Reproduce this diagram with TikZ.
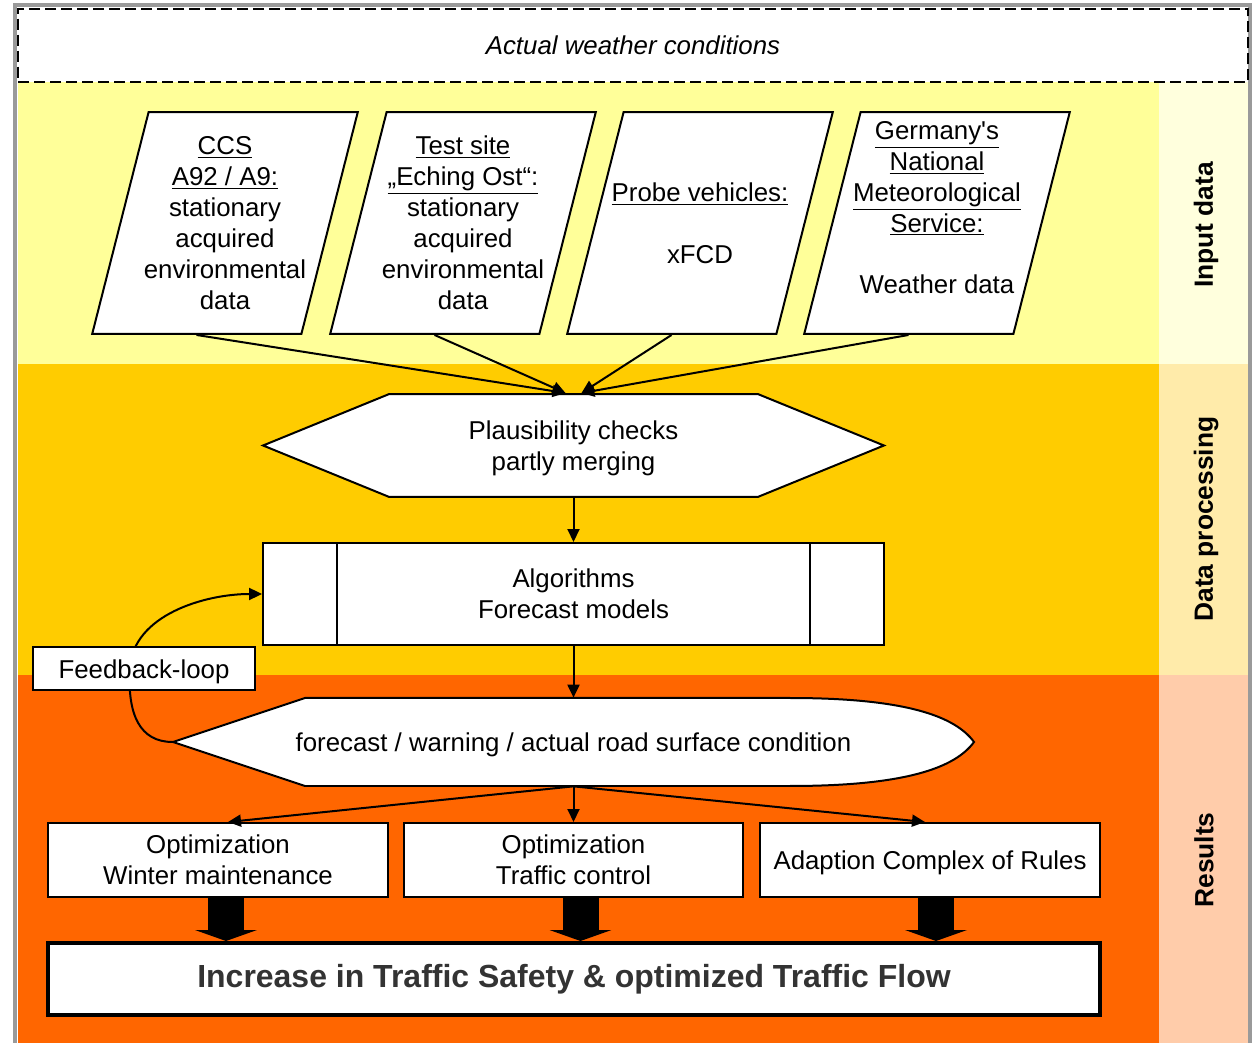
\documentclass[tikz,border=0pt]{standalone}
\usepackage{fontspec}
\setmainfont{Liberation Sans}
\usetikzlibrary{shapes.geometric,shapes.symbols,arrows.meta,calc}

\definecolor{bandinput}{HTML}{FFFF99}
\definecolor{bandinputside}{HTML}{FFFFDD}
\definecolor{bandproc}{HTML}{FFCC00}
\definecolor{bandprocside}{HTML}{FFEBAA}
\definecolor{bandres}{HTML}{FF6600}
\definecolor{bandresside}{HTML}{FFCCAA}
\definecolor{framegray}{HTML}{9A9A9A}
\definecolor{goaltext}{HTML}{333333}

\newcommand{\droptext}[1]{\raisebox{-0.06cm}[\height][\depth]{#1}}
% fixed room inside every source box
\newcommand{\paraspace}{\rule{3.0cm}{0pt}\rule{0pt}{3.58cm}}

\tikzset{
  box/.style={draw, fill=white, line width=0.04cm, align=center, inner sep=0pt},
  para/.style={box, trapezium, trapezium left angle=72.8, trapezium right angle=107.2,
    trapezium stretches=true, minimum width=5.32cm, minimum height=4.44cm},
  paratext/.style={label={[align=center]center:#1}},
  flow/.style={-{Triangle[length=0.26cm,width=0.24cm]}, line width=0.04cm},
  fat/.style={-{Triangle[length=0.22cm,width=1.24cm,line width=0pt]}, line width=0.72cm},
  band/.style={font=\fontsize{15}{18}\selectfont\bfseries, rotate=90},
}

\begin{document}
\begin{tikzpicture}[x=0.02cm, y=-0.02cm, font=\fontsize{14.7}{17.6}\selectfont]
\useasboundingbox (0,0) rectangle (1255,1043);

% coloured bands
\fill[bandinput] (18,82) rectangle (1159,364);
\fill[bandinputside] (1159,82) rectangle (1248,364);
\fill[bandproc] (18,364) rectangle (1159,675);
\fill[bandprocside] (1159,364) rectangle (1248,675);
\fill[bandres] (18,675) rectangle (1159,1043);
\fill[bandresside] (1159,675) rectangle (1248,1043);
\draw[framegray, line width=0.07cm] (15,1043) -- (15,5) -- (1250,5) -- (1250,1043);

\node[draw, fill=white, line width=0.04cm, dash pattern=on 0.22cm off 0.1cm,
  minimum width=24.6cm, minimum height=1.48cm] (weather) at (633,45.5) {\itshape Actual weather conditions};

% sources
\node[para, paratext={\underline{CCS}\\\underline{A92 / A9:}\\stationary\\acquired\\environmental\\data}] (ccs) at (225,223) {\paraspace};
\node[para, paratext={\underline{Test site}\\\underline{„Eching Ost“:}\\stationary\\acquired\\environmental\\data}] (eching) at (463,223) {\paraspace};
\node[para, paratext={\underline{Probe vehicles:}\\\mbox{}\\xFCD}] (probe) at (700,223) {\paraspace};
\node[para, paratext={\underline{Germany\textquotesingle s}\\\underline{National}\\\underline{Meteorological}\\\underline{Service:}\\\mbox{}\\Weather data\\\mbox{}}] (dwd) at (937,223) {\paraspace};

% processing
\node[box, signal, signal to=west and east, signal pointer angle=44.4,
  minimum width=12.42cm, minimum height=2.06cm] (plaus) at (573.5,445.5) {\rule{0pt}{0.5cm}Plausibility checks\\partly merging};
\node[box, minimum width=12.42cm, minimum height=2.04cm] (alg) at (573.5,594) {Algorithms\\Forecast models};
\draw[line width=0.04cm] ($(alg.north west)+(75,0)$) -- ($(alg.south west)+(75,0)$);
\draw[line width=0.04cm] ($(alg.north east)+(-75,0)$) -- ($(alg.south east)+(-75,0)$);

% results
\draw[box] (173,742) -- (305,698) -- (790,698) .. controls (905,698) and (955,716) .. (974,742)
  .. controls (955,768) and (905,786) .. (790,786) -- (305,786) -- cycle;
\node[minimum width=16.02cm, minimum height=1.76cm, inner sep=0pt] (fc) at (573.5,742) {\droptext{forecast / warning / actual road surface condition}};
\node[box, minimum width=6.8cm, minimum height=1.48cm] (optA) at (218,860) {Optimization\\Winter maintenance};
\node[box, minimum width=6.8cm, minimum height=1.48cm] (optB) at (573.5,860) {Optimization\\Traffic control};
\node[box, minimum width=6.8cm, minimum height=1.48cm] (optC) at (930,860) {\droptext{Adaption Complex of Rules}};
\node[box, line width=0.08cm, minimum width=21.04cm, minimum height=1.44cm,
  font=\fontsize{18.2}{22}\selectfont\bfseries, text=goaltext] (goal) at (574,979) {Increase in Traffic Safety \& optimized Traffic Flow};

% arrows
\draw[flow] (ccs.bottom side) -- ($(plaus.north)+(-8,0)$);
\draw[flow] (eching.bottom side) -- ($(plaus.north)+(-8,0)$);
\draw[flow] (probe.bottom side) -- ($(plaus.north)+(8,0)$);
\draw[flow] (dwd.bottom side) -- ($(plaus.north)+(8,0)$);
\draw[flow] (plaus.south) -- (alg.north);
\draw[flow] (alg.south) -- (fc.north);
\draw[flow] (fc.south) -- ($(optA.north)+(10,0)$);
\draw[flow] (fc.south) -- (optB.north);
\draw[flow] (fc.south) -- ($(optC.north)+(-5,0)$);
\draw[fat] ($(optA.south)+(8,0)$) -- ($(optA.south |- goal.north)+(8,0)$);
\draw[fat] ($(optB.south)+(7,0)$) -- ($(optB.south |- goal.north)+(7,0)$);
\draw[fat] ($(optC.south)+(6,0)$) -- ($(optC.south |- goal.north)+(6,0)$);

% feedback
\draw[flow] (fc.west) .. controls (140,742) and (127,715) .. (130,668)
  .. controls (133,615) and (205,594) .. (alg.west);
\node[box, minimum width=4.44cm, minimum height=0.86cm] (fb) at (144,668.5) {\droptext{Feedback-loop}};

% side labels
\node[band] (lblin) at (1206,225) {Input data};
\node[band] (lblproc) at (1206,519) {Data processing};
\node[band] (lblres) at (1204,860) {Results};
\end{tikzpicture}
\end{document}
